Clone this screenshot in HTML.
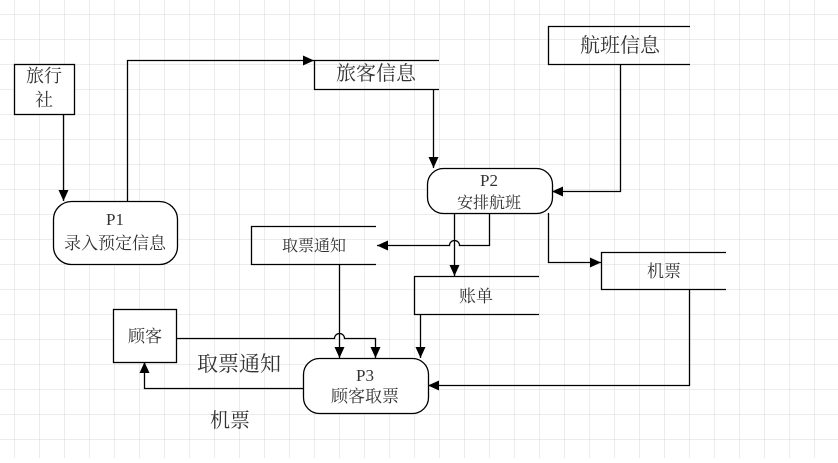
<!DOCTYPE html>
<html><head><meta charset="utf-8"><style>
body{margin:0;background:#fff}
svg text{font-family:"Liberation Serif","Noto Serif CJK SC","Noto Sans CJK SC",serif;fill:#333;text-anchor:middle}
</style></head><body>
<svg width="838" height="458" xmlns="http://www.w3.org/2000/svg">
<defs>
<pattern id="g" x="14" y="14" width="25" height="25" patternUnits="userSpaceOnUse">
<path d="M0 0H25M0 0V25" stroke="#d9d9d9" stroke-width="1" fill="none"/>
</pattern>
<marker id="a" markerWidth="12" markerHeight="12" refX="11" refY="5" orient="auto" markerUnits="userSpaceOnUse">
<path d="M0 0L11 5L0 10Z" fill="#000"/>
</marker>
</defs>
<rect x="0" y="0" width="838" height="458" fill="url(#g)"/>
<g fill="none" stroke="#000" stroke-width="1.3">
<rect x="14.5" y="64.5" width="60" height="50" fill="#fff"/>
<rect x="53.5" y="201.5" width="124" height="63" rx="18" fill="#fff"/>
<rect x="427.5" y="168.5" width="125" height="45" rx="16" fill="#fff"/>
<rect x="303.5" y="358.5" width="125" height="55" rx="16" fill="#fff"/>
<rect x="113.5" y="309.5" width="63" height="53" fill="#fff"/>
<path d="M439 60.5H314.5V89.5H439"/>
<path d="M690 26.5H548.5V64.5H690"/>
<path d="M376 226.5H251.5V264.5H376"/>
<path d="M539 276.5H414.5V314.5H539"/>
<path d="M726 252.5H601.5V289.5H726"/>
<path d="M63.5 114.5V201" marker-end="url(#a)"/>
<path d="M127.5 201V60.5H314" marker-end="url(#a)"/>
<path d="M433.5 89.5V168" marker-end="url(#a)"/>
<path d="M620.5 64.5V191.5H552" marker-end="url(#a)"/>
<path d="M489.5 213.5V245.5H459.5A5 5 0 0 0 449.5 245.5H377" marker-end="url(#a)"/>
<path d="M454.5 213.5V276" marker-end="url(#a)"/>
<path d="M548.5 213V262.5H601" marker-end="url(#a)"/>
<path d="M689.5 289.5V385.5H428" marker-end="url(#a)"/>
<path d="M339.5 264.5V358" marker-end="url(#a)"/>
<path d="M420.5 314.5V358" marker-end="url(#a)"/>
<path d="M176.5 338.5H334.5A5 5 0 0 1 344.5 338.5H375.5V358" marker-end="url(#a)"/>
<path d="M303.5 388.5H144.5V362" marker-end="url(#a)"/>
</g>
<g font-size="18">
<text x="44" y="82">旅行</text>
<text x="44" y="106">社</text>
<text x="376" y="80" font-size="20">旅客信息</text>
<text x="620" y="52" font-size="20">航班信息</text>
</g>
<g font-size="17">
<text x="115" y="225">P1</text>
<text x="115" y="249">录入预定信息</text>
<text x="489" y="186">P2</text>
<text x="489" y="208" font-size="16">安排航班</text>
<text x="314" y="251" font-size="16">取票通知</text>
<text x="476" y="302">账单</text>
<text x="664" y="277">机票</text>
<text x="145" y="342">顾客</text>
<text x="365" y="381">P3</text>
<text x="365" y="402">顾客取票</text>
<text x="239" y="371" font-size="21">取票通知</text>
<text x="230" y="427" font-size="20">机票</text>
</g>
</svg>
</body></html>
